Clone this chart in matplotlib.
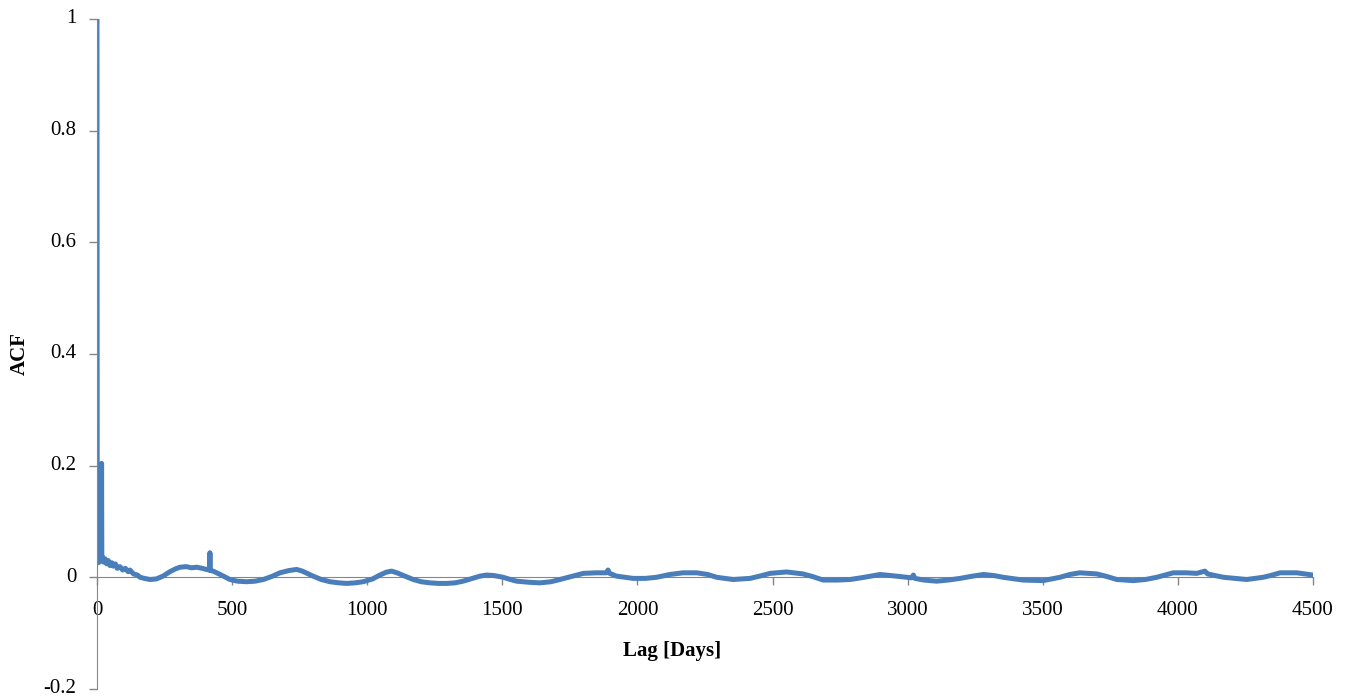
import matplotlib
matplotlib.use("Agg")
import numpy as np
from matplotlib import pyplot as plt

plt.rcParams['font.family'] = ['Liberation Serif', 'DejaVu Serif']

# autocorrelation read at selected lags
lag = [0, 1, 3, 5, 8, 11, 14, 16, 17, 18, 21, 25, 30, 36, 42, 48, 55, 60, 68,
       75, 85, 95, 105, 115, 122, 135, 150, 159, 175, 196, 220, 244, 270,
       290, 307, 330, 350, 369, 390, 405, 416, 418, 420, 430, 460, 492, 520,
       554, 585, 616, 650, 677, 710, 739, 760, 800, 830, 862, 895, 924, 955,
       985, 1020, 1047, 1070, 1090, 1110, 1140, 1170, 1200, 1232, 1265, 1294,
       1325, 1355, 1390, 1417, 1442, 1470, 1503, 1530, 1553, 1600, 1639, 1680,
       1713, 1760, 1800, 1849, 1885, 1891, 1897, 1923, 1984, 2030, 2071, 2120,
       2169, 2219, 2260, 2293, 2354, 2417, 2460, 2491, 2552, 2613, 2650, 2687,
       2740, 2787, 2840, 2898, 2959, 3015, 3021, 3027, 3060, 3107, 3150, 3194,
       3240, 3280, 3320, 3353, 3427, 3501, 3564, 3600, 3637, 3700, 3740, 3774,
       3835, 3880, 3922, 3983, 4030, 4070, 4100, 4110, 4130, 4168, 4210, 4255,
       4316, 4350, 4378, 4440, 4470, 4500]
acf = [1.0, 0.030, 0.036, 0.026, 0.034, 0.028, 0.031, 0.030, 0.204, 0.030,
       0.036, 0.027, 0.033, 0.024, 0.030, 0.021, 0.026, 0.020, 0.024, 0.016,
       0.019, 0.013, 0.016, 0.010, 0.013, 0.006, 0.004, 0.000, -0.002, -0.004,
       -0.003, 0.002, 0.010, 0.015, 0.018, 0.019, 0.017, 0.018, 0.016, 0.014,
       0.013, 0.044, 0.012, 0.011, 0.004, -0.004, -0.007, -0.008, -0.007,
       -0.004, 0.002, 0.008, 0.012, 0.014, 0.011, 0.002, -0.004, -0.008,
       -0.010, -0.011, -0.010, -0.008, -0.003, 0.004, 0.009, 0.011, 0.008,
       0.002, -0.004, -0.008, -0.010, -0.011, -0.011, -0.010, -0.007, -0.002,
       0.002, 0.004, 0.003, 0.000, -0.004, -0.007, -0.009, -0.010, -0.008,
       -0.004, 0.002, 0.007, 0.008, 0.008, 0.013, 0.007, 0.002, -0.002,
       -0.002, 0.000, 0.005, 0.008, 0.008, 0.005, 0.000, -0.004, -0.002,
       0.003, 0.007, 0.0095, 0.006, 0.001, -0.005, -0.005, -0.004, 0.000,
       0.005, 0.002, -0.001, 0.004, -0.002, -0.005, -0.007, -0.005, -0.002,
       0.002, 0.005, 0.003, 0.000, -0.005, -0.006, 0.000, 0.005, 0.008,
       0.006, 0.001, -0.004, -0.006, -0.004, 0.000, 0.008, 0.008, 0.007,
       0.011, 0.006, 0.004, 0.000, -0.002, -0.004, 0.000, 0.004, 0.008,
       0.008, 0.006, 0.004]

fig = plt.figure(figsize=(13.45, 6.98), dpi=100)
ax = fig.add_axes([0.0721, 0.0130, 0.9041, 0.9598])

ax.plot(lag, acf, color='#4a7ebb', lw=3.6, solid_joinstyle='round')

ax.set_xlim(0, 4500)
ax.set_ylim(-0.2, 1)
ax.set_xticks(np.arange(0, 4501, 500))
ax.set_yticks([-0.2, 0, 0.2, 0.4, 0.6, 0.8, 1])
ax.set_yticklabels(['-0.2', '0', '0.2', '0.4', '0.6', '0.8', '1'])
for t in ax.get_yticklabels():
    t.set_verticalalignment('center')

for s in ['top', 'right']:
    ax.spines[s].set_visible(False)
ax.spines['bottom'].set_position(('data', 0))
ax.spines['bottom'].set_color('#868686')
ax.spines['left'].set_color('#868686')
ax.spines['bottom'].set_zorder(0)
ax.tick_params(axis='both', colors='#868686', labelcolor='black',
               labelsize=15, length=6, width=1)
ax.tick_params(axis='x', pad=11)
ax.tick_params(axis='y', pad=9)

ax.set_xlabel('Lag [Days]', fontsize=15, fontweight='bold')
ax.xaxis.set_label_coords((672 - 97) / 1216, (689 - 641) / 671)
ax.set_ylabel('ACF', fontsize=15, fontweight='bold')
ax.yaxis.set_label_coords((30 - 97) / 1216, 0.5)

fig.savefig('out.png', dpi=100)
